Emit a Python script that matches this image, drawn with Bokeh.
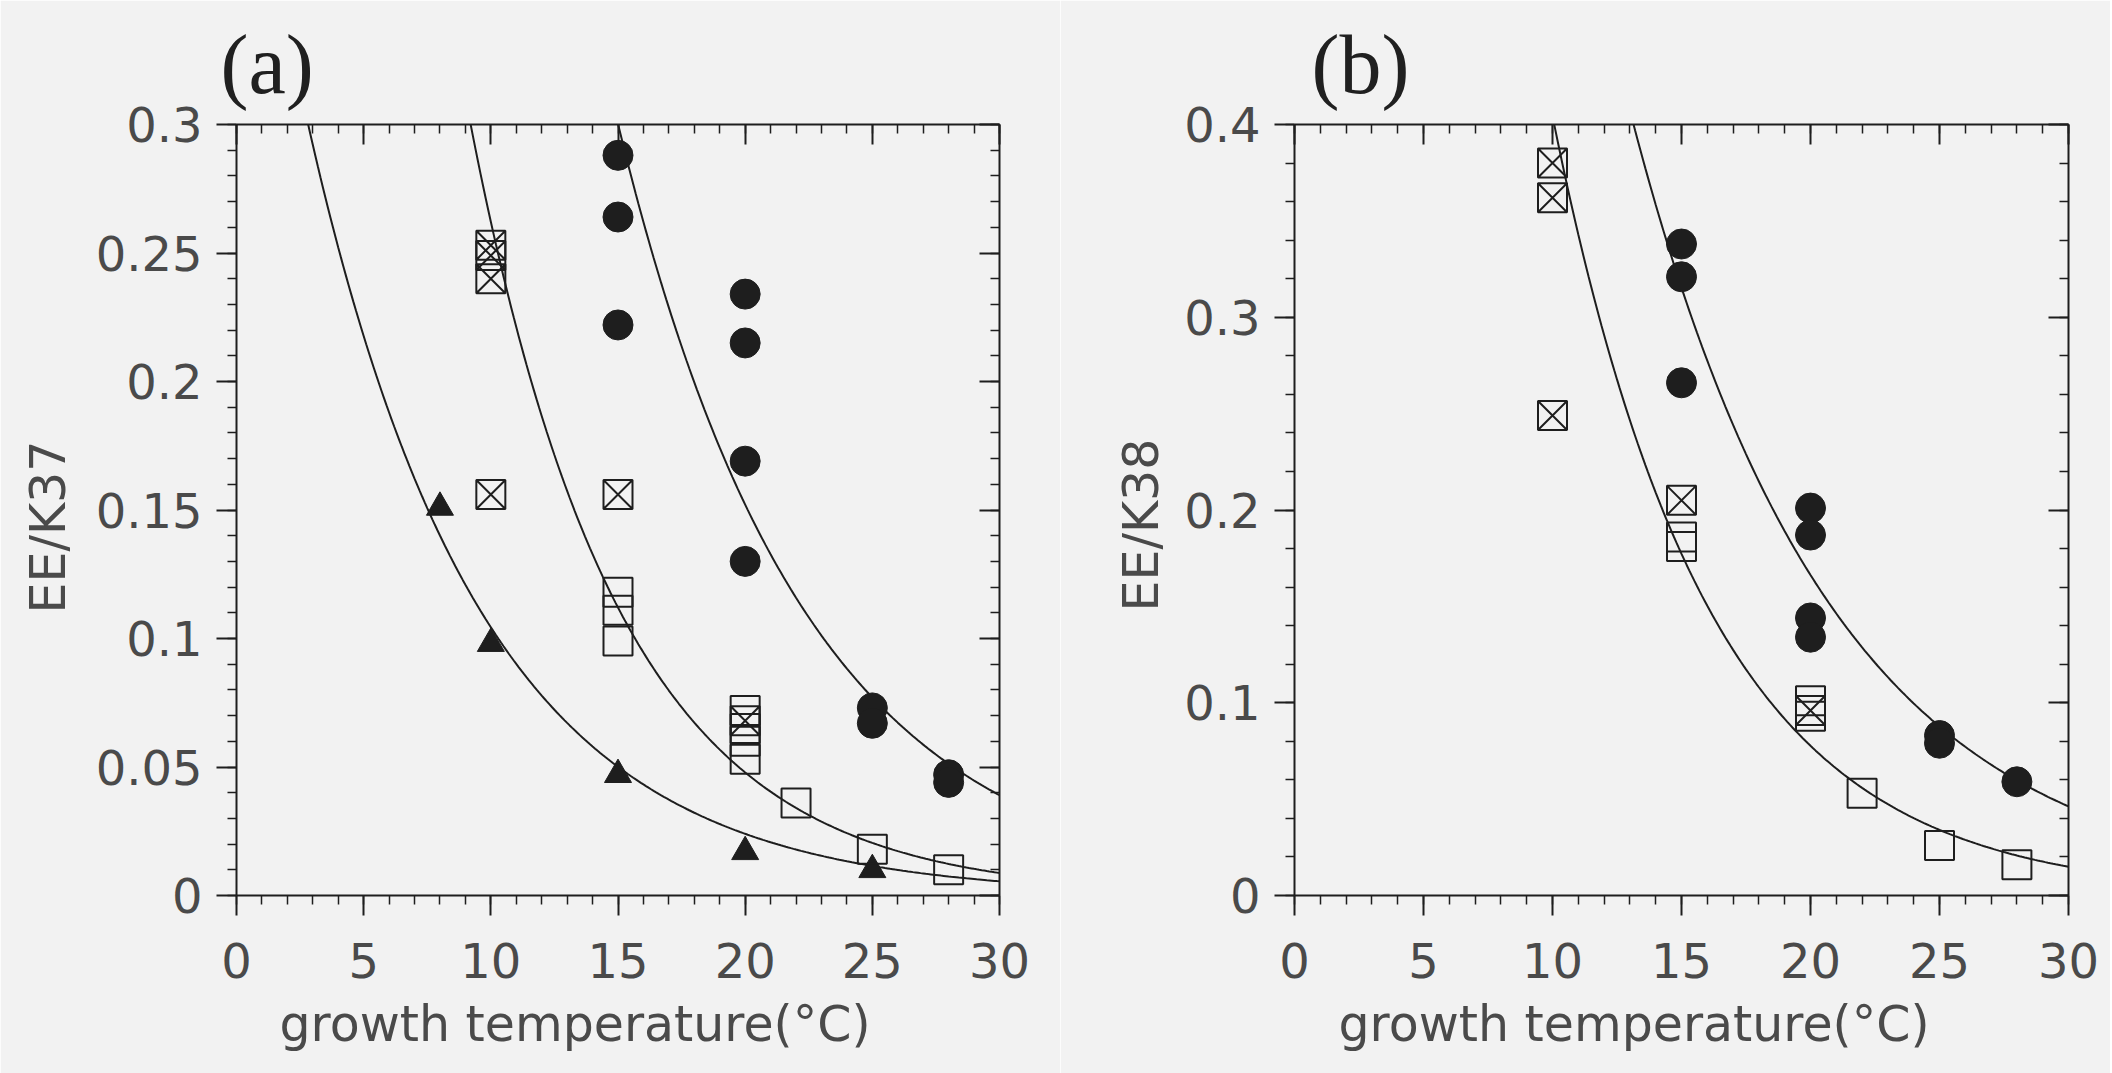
import numpy as np
from bokeh.plotting import figure
from bokeh.layouts import row
from bokeh.models import LinearAxis, FixedTicker, CustomJSTickFormatter, Range1d, Title
from bokeh.embed import file_html
from bokeh.resources import INLINE

# ---------------- data ----------------
# panel (a): EE/K37
A_TRI_T = [8, 10, 15, 20, 25]
A_TRI_V = [0.151, 0.098, 0.047, 0.017, 0.010]

A_SQ_T = [15, 15, 15, 20, 20, 20, 20, 22, 25, 28]
A_SQ_V = [0.118, 0.111, 0.099, 0.072, 0.065, 0.060, 0.053, 0.036, 0.018, 0.010]

A_SQX_T = [10, 10, 10, 10, 15, 20]
A_SQX_V = [0.253, 0.249, 0.240, 0.156, 0.156, 0.068]

A_CIR_T = [15, 15, 15, 20, 20, 20, 20, 25, 25, 28, 28]
A_CIR_V = [0.288, 0.264, 0.222, 0.234, 0.215, 0.169, 0.130, 0.073, 0.067, 0.047, 0.044]

# exponential fit curves  y = A * exp(-k * T)
A_FITS = [(0.454, 0.147), (1.435, 0.170), (2.309, 0.136)]

# panel (b): EE/K38
B_SQX_T = [10, 10, 10, 15, 20]
B_SQX_V = [0.380, 0.362, 0.249, 0.205, 0.096]

B_SQ_T = [15, 15, 20, 20, 22, 25, 28]
B_SQ_V = [0.186, 0.181, 0.101, 0.093, 0.053, 0.026, 0.016]

B_CIR_T = [15, 15, 15, 20, 20, 20, 20, 25, 25, 28]
B_CIR_V = [0.338, 0.321, 0.266, 0.201, 0.187, 0.144, 0.134, 0.083, 0.079, 0.059]

B_FITS = [(2.106, 0.165), (2.151, 0.128)]

X_TICKS = [0, 5, 10, 15, 20, 25, 30]
A_Y_TICKS = [0, 0.05, 0.1, 0.15, 0.2, 0.25, 0.3]
B_Y_TICKS = [0, 0.1, 0.2, 0.3, 0.4]

X_LABEL = "growth temperature(°C)"
A_Y_LABEL = "EE/K37"
B_Y_LABEL = "EE/K38"

# ---------------- style ----------------
INK = "#1e1e1e"
TXT = "#4a4a4a"
BG = "#f2f2f2"
FONT = "DejaVu Sans"
TICK_FS = "48px"
LABEL_FS = "49px"

fmt = CustomJSTickFormatter(code="return String(Math.round(tick*1000)/1000);")
blank = CustomJSTickFormatter(code="return '';")


def style_axis(ax, major, minor, show_labels, inward):
    ax.ticker = FixedTicker(ticks=major, minor_ticks=minor)
    ax.axis_line_color = INK
    ax.axis_line_width = 2
    ax.major_tick_line_color = INK
    ax.major_tick_line_width = 2
    ax.minor_tick_line_color = INK
    ax.minor_tick_line_width = 1.5
    if inward:
        ax.major_tick_in, ax.major_tick_out = 20, 0
        ax.minor_tick_in, ax.minor_tick_out = 9, 0
    else:
        ax.major_tick_in, ax.major_tick_out = 0, 20
        ax.minor_tick_in, ax.minor_tick_out = 0, 9
    if show_labels:
        ax.formatter = fmt
        ax.major_label_text_font = FONT
        ax.major_label_text_font_size = TICK_FS
        ax.major_label_text_color = TXT
    else:
        ax.formatter = blank
        ax.major_label_text_font_size = "1px"
        ax.major_label_standoff = 0


def make_panel(title, ylabel, ymax, yticks, yminor_step, width, height, borders,
               title_dx, xlab_dx, ylab_standoff, ylab_dy):
    left, right, top, bottom = borders
    p = figure(width=width, height=height, output_backend="svg", toolbar_location=None,
               x_range=Range1d(0, 30), y_range=Range1d(0, ymax),
               min_border_left=left, min_border_right=right,
               min_border_top=top, min_border_bottom=bottom)
    p.background_fill_color = BG
    p.border_fill_color = BG
    p.outline_line_color = None
    p.grid.visible = False

    p.title.text = title
    p.title.text_font = "Liberation Serif"
    p.title.text_font_size = "84px"
    p.title.text_font_style = "normal"
    p.title.text_color = "#202020"
    p.title.align = "left"
    p.title.offset = title_dx
    p.title.standoff = 28

    xminor = list(np.arange(0, 31, 1))
    yminor = list(np.round(np.arange(0, ymax + 1e-9, yminor_step), 4))
    style_axis(p.xaxis[0], X_TICKS, xminor, True, False)
    style_axis(p.yaxis[0], yticks, yminor, True, False)
    p.xaxis[0].major_label_standoff = 27
    p.yaxis[0].major_label_standoff = 14

    top_ax = LinearAxis()
    right_ax = LinearAxis()
    style_axis(top_ax, X_TICKS, xminor, False, True)
    style_axis(right_ax, yticks, yminor, False, True)
    p.add_layout(top_ax, "above")
    p.add_layout(right_ax, "right")

    # axis titles (as side titles so they can be shifted like the reference)
    p.add_layout(Title(text=X_LABEL, align="left", offset=xlab_dx, standoff=26,
                       text_font=FONT, text_font_size=LABEL_FS, text_font_style="normal",
                       text_color=TXT), "below")
    p.add_layout(Title(text=ylabel, align="left", offset=ylab_dy, standoff=ylab_standoff,
                       text_font=FONT, text_font_size=LABEL_FS, text_font_style="normal",
                       text_color=TXT), "left")
    return p


T_CURVE = np.linspace(0, 30, 301)


def add_curves(p, fits):
    for amp, k in fits:
        p.line(T_CURVE, amp * np.exp(-k * T_CURVE), line_color=INK, line_width=2)


# panel a
pa = make_panel("(a)", A_Y_LABEL, 0.3, A_Y_TICKS, 0.01, 1060, 1073, (236, 61, 124, 175),
                -16, 43, 31, 282)
add_curves(pa, A_FITS)
pa.scatter(A_TRI_T, A_TRI_V, marker="triangle", size=27, fill_color=INK, line_color=INK)
pa.scatter(A_SQ_T, A_SQ_V, marker="square", size=29, fill_color=None, line_color=INK, line_width=2)
pa.scatter(A_SQX_T, A_SQX_V, marker="square_x", size=29, fill_color=None, line_color=INK, line_width=2)
pa.scatter(A_CIR_T, A_CIR_V, marker="circle", size=30, fill_color=INK, line_color=INK)

# panel b
pb = make_panel("(b)", B_Y_LABEL, 0.4, B_Y_TICKS, 0.02, 1050, 1073, (234, 42, 124, 178),
                17, 44, 23, 284)
add_curves(pb, B_FITS)
pb.scatter(B_SQ_T, B_SQ_V, marker="square", size=29, fill_color=None, line_color=INK, line_width=2)
pb.scatter(B_SQX_T, B_SQX_V, marker="square_x", size=29, fill_color=None, line_color=INK, line_width=2)
pb.scatter(B_CIR_T, B_CIR_V, marker="circle", size=30, fill_color=INK, line_color=INK)

layout = row(pa, pb)
open("out.html", "w").write(file_html(layout, INLINE))
